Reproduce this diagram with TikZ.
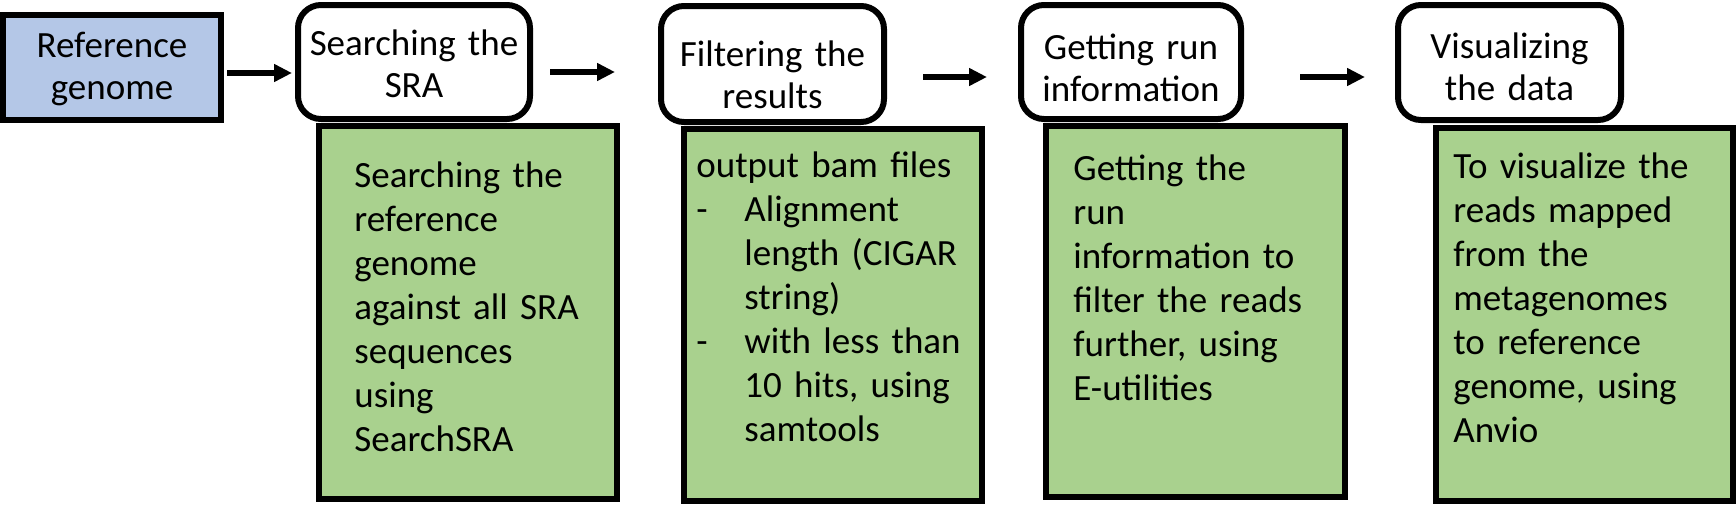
\documentclass[tikz,border=0pt]{standalone}
\usepackage{fontspec}
\setmainfont{Carlito}
\usetikzlibrary{arrows.meta}
\definecolor{refblue}{HTML}{B4C7E7}
\definecolor{stepgreen}{HTML}{A9D18E}
\tikzset{
  refbox/.style={draw=black, line width=3pt, fill=refblue, inner sep=0pt},
  stagebox/.style={draw=black, line width=3pt, fill=white, rounded corners=11.5pt, inner sep=0pt},
  detailbox/.style={draw=black, line width=3pt, fill=stepgreen, inner sep=0pt},
  toptext/.style={anchor=base, text width=140pt, align=center, inner sep=0pt,
     font=\fontsize{18.5pt}{21pt}\selectfont},
  bodytext/.style={anchor=base west, text width=160pt, align=left, inner sep=0pt,
     font=\fontsize{18.5pt}{22pt}\selectfont},
  arr/.style={line width=2.75pt, -{Triangle[length=9pt,width=8.5pt]}},
}
\begin{document}
\begin{tikzpicture}[x=0.5pt,y=-0.5pt]
\useasboundingbox (0,0) rectangle (1736,515);
% green detail boxes
\node[detailbox, minimum width=149pt, minimum height=186.5pt] (g1) at (468,312.5) {};
\node[detailbox, minimum width=149pt, minimum height=186pt] (g2) at (833,315) {};
\node[detailbox, minimum width=149.5pt, minimum height=185.5pt] (g3) at (1195.5,311.5) {};
\node[detailbox, minimum width=148.5pt, minimum height=186.5pt] (g4) at (1584.5,314.5) {};
% top boxes
\node[refbox, minimum width=109pt, minimum height=52.5pt] (b1) at (112,67.5) {};
\node[stagebox, minimum width=116pt, minimum height=57pt] (b2) at (414,62) {};
\node[stagebox, minimum width=111.5pt, minimum height=58pt] (b3) at (772.5,64) {};
\node[stagebox, minimum width=110pt, minimum height=57pt] (b4) at (1131,62) {};
\node[stagebox, minimum width=111.5pt, minimum height=57.5pt] (b5) at (1509.5,62.5) {};
% top texts
\node[toptext] (t1) at (112,57) {Reference\\genome};
\node[toptext] (t2) at (414,55) {Searching the\\SRA};
\node[toptext] (t3) at (772.5,66) {Filtering the\\results};
\node[toptext] (t4) at (1131,59) {Getting run\\information};
\node[toptext] (t5) at (1509.5,58) {Visualizing\\the data};
% body texts
\node[bodytext] (d1) at (354,187) {Searching the\\reference\\genome\\against all SRA\\sequences\\using\\SearchSRA};
\node[bodytext] (d2) at (696,177) {output bam files\\\makebox[24pt][l]{-}Alignment\\\hspace*{24pt}length (CIGAR\\\hspace*{24pt}string)\\\makebox[24pt][l]{-}with less than\\\hspace*{24pt}10 hits, using\\\hspace*{24pt}samtools};
\node[bodytext] (d3) at (1073,180) {Getting the\\run\\information to\\filter the reads\\further, using\\E-utilities};
\node[bodytext] (d4) at (1453,178) {To visualize the\\reads mapped\\from the\\metagenomes\\to reference\\genome, using\\Anvio};
% arrows
\draw[arr, shorten <=1.5pt, shorten >=1.5pt] (b1.east |- 0,73) -- (b2.west |- 0,73);
\draw[arr, shorten <=8.5pt, shorten >=21.5pt] (b2.east |- 0,72) -- (b3.west |- 0,72);
\draw[arr, shorten <=18pt, shorten >=15.5pt] (b3.east |- 0,77) -- (b4.west |- 0,77);
\draw[arr, shorten <=28pt, shorten >=15pt] (b4.east |- 0,77) -- (b5.west |- 0,77);
\end{tikzpicture}
\end{document}
